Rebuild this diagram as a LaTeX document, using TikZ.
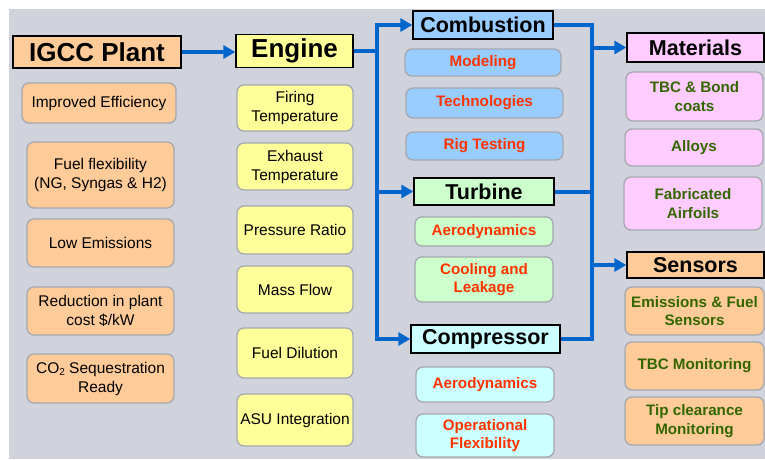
\documentclass[tikz,border=0pt]{standalone}
\usepackage{fontspec}
\setmainfont{Liberation Sans}
\usetikzlibrary{arrows.meta}

\definecolor{panel}{RGB}{208,211,220}
\definecolor{flowblue}{RGB}{0,102,204}
\definecolor{peach}{RGB}{255,204,153}
\definecolor{lemon}{RGB}{255,255,153}
\definecolor{skyblue}{RGB}{153,204,255}
\definecolor{mint}{RGB}{204,255,204}
\definecolor{aqua}{RGB}{204,255,255}
\definecolor{pinkish}{RGB}{255,204,255}
\definecolor{redtext}{RGB}{255,51,0}
\definecolor{greentext}{RGB}{51,102,0}
\definecolor{subedge}{RGB}{165,168,176}

\tikzset{
  hdr/.style={draw=black, line width=1.3pt, inner sep=0pt, align=center,
    font=\bfseries\fontsize{21.5}{24}\selectfont},
  bighdr/.style={hdr, font=\bfseries\fontsize{26}{28}\selectfont},
  subbox/.style={draw=subedge, line width=1.3pt, rounded corners=7pt,
    inner sep=0pt, align=center},
  plain/.style={subbox, font=\fontsize{15.5}{19}\selectfont, text=black},
  redsub/.style={subbox, font=\bfseries\fontsize{15.2}{18.5}\selectfont, text=redtext},
  greensub/.style={subbox, font=\bfseries\fontsize{15.2}{18.5}\selectfont, text=greentext},
  wire/.style={draw=flowblue, line width=4pt, line join=miter},
  flow/.style={wire, -{Triangle[length=12pt,width=13pt]}},
}

\begin{document}
\begin{tikzpicture}[x=1pt,y=-1pt]
\useasboundingbox (0,0) rectangle (765,459);
\fill[panel] (9,9) rectangle (765,459);

% main headers
\node[bighdr, fill=peach, minimum width=168pt, minimum height=32pt] (igcc) at (97,52) {IGCC Plant};
\node[bighdr, fill=lemon, minimum width=117pt, minimum height=33pt] (engine) at (294.5,51) {Engine};
\node[hdr, fill=skyblue, minimum width=140pt, minimum height=28pt] (comb) at (483,25) {Combustion};
\node[hdr, fill=mint, minimum width=140pt, minimum height=27pt] (turb) at (484,191.5) {Turbine};
\node[hdr, fill=aqua, minimum width=149pt, minimum height=28pt] (comp) at (485.5,339) {Compressor};
\node[hdr, fill=pinkish, minimum width=137pt, minimum height=29pt] (mat) at (695.5,47.5) {Materials};
\node[hdr, fill=peach, minimum width=137pt, minimum height=26pt] (sens) at (695.5,265) {Sensors};

% plant goals
\node[plain, fill=peach, minimum width=154pt, minimum height=40pt] (p1) at (99,103) {Improved Efficiency};
\node[plain, fill=peach, minimum width=147pt, minimum height=66pt] (p2) at (100.5,175) {Fuel flexibility\\(NG, Syngas \& H2)};
\node[plain, fill=peach, minimum width=147pt, minimum height=48pt] (p3) at (100.5,243) {Low Emissions};
\node[plain, fill=peach, minimum width=147pt, minimum height=48pt] (p4) at (100.5,311) {Reduction in plant\\cost \$/kW};
\node[plain, fill=peach, minimum width=147pt, minimum height=49pt] (p5) at (100.5,378.5) {CO\raisebox{-0.35ex}{\fontsize{10}{10}\selectfont 2} Sequestration\\Ready};

% engine parameters
\node[plain, fill=lemon, minimum width=116pt, minimum height=46pt] (e1) at (295,108) {Firing\\Temperature};
\node[plain, fill=lemon, minimum width=116pt, minimum height=47pt] (e2) at (295,166.5) {Exhaust\\Temperature};
\node[plain, fill=lemon, minimum width=116pt, minimum height=48pt] (e3) at (295,230) {Pressure Ratio};
\node[plain, fill=lemon, minimum width=116pt, minimum height=47pt] (e4) at (295,289.5) {Mass Flow};
\node[plain, fill=lemon, minimum width=116pt, minimum height=50pt] (e5) at (295,353) {Fuel Dilution};
\node[plain, fill=lemon, minimum width=116pt, minimum height=52pt] (e6) at (295,420) {ASU Integration};

% combustion topics
\node[redsub, fill=skyblue, minimum width=156pt, minimum height=27pt] (c1) at (483,62.5) {Modeling};
\node[redsub, fill=skyblue, minimum width=157pt, minimum height=30pt] (c2) at (484.5,103) {Technologies};
\node[redsub, fill=skyblue, minimum width=157pt, minimum height=28pt] (c3) at (484.5,146) {Rig Testing};

% turbine topics
\node[redsub, fill=mint, minimum width=138pt, minimum height=29pt] (t1) at (484,231.5) {Aerodynamics};
\node[redsub, fill=mint, minimum width=138pt, minimum height=45pt] (t2) at (484,279.5) {Cooling and\\Leakage};

% compressor topics
\node[redsub, fill=aqua, minimum width=138pt, minimum height=35pt] (k1) at (485,384.5) {Aerodynamics};
\node[redsub, fill=aqua, minimum width=138pt, minimum height=43pt] (k2) at (485,435.5) {Operational\\Flexibility};

% materials topics
\node[greensub, fill=pinkish, minimum width=137pt, minimum height=49pt] (m1) at (694.5,96.5) {TBC \& Bond\\coats};
\node[greensub, fill=pinkish, minimum width=138pt, minimum height=37pt] (m2) at (694,147.5) {Alloys};
\node[greensub, fill=pinkish, minimum width=138pt, minimum height=53pt] (m3) at (693,203.5) {Fabricated\\Airfoils};

% sensor topics
\node[greensub, fill=peach, minimum width=139pt, minimum height=48pt] (s1) at (694.5,311) {Emissions \& Fuel\\Sensors};
\node[greensub, fill=peach, minimum width=139pt, minimum height=48pt] (s2) at (694.5,366) {TBC Monitoring};
\node[greensub, fill=peach, minimum width=139pt, minimum height=48pt] (s3) at (694.5,421) {Tip clearance\\Monitoring};

% bus lines
\coordinate (busL) at (377,0);
\coordinate (busR) at (592,0);

\draw[flow] (igcc.east) -- (engine.west |- igcc.east);

\draw[wire] (engine.east) -- (engine.east -| busL);
\draw[wire, line cap=rect] (busL |- comb) -- (busL |- comp);
\draw[flow] (busL |- comb) -- (comb.west);
\draw[flow] (busL |- turb) -- (turb.west);
\draw[flow] (busL |- comp) -- (comp.west);

\draw[wire] (comb.east) -- (comb -| busR);
\draw[wire] (turb.east) -- (turb -| busR);
\draw[wire] (comp.east) -- (comp -| busR);
\draw[wire, line cap=rect] (busR |- comb) -- (busR |- comp);
\draw[flow] (busR |- mat) -- (mat.west);
\draw[flow] (busR |- sens) -- (sens.west);
\end{tikzpicture}
\end{document}
